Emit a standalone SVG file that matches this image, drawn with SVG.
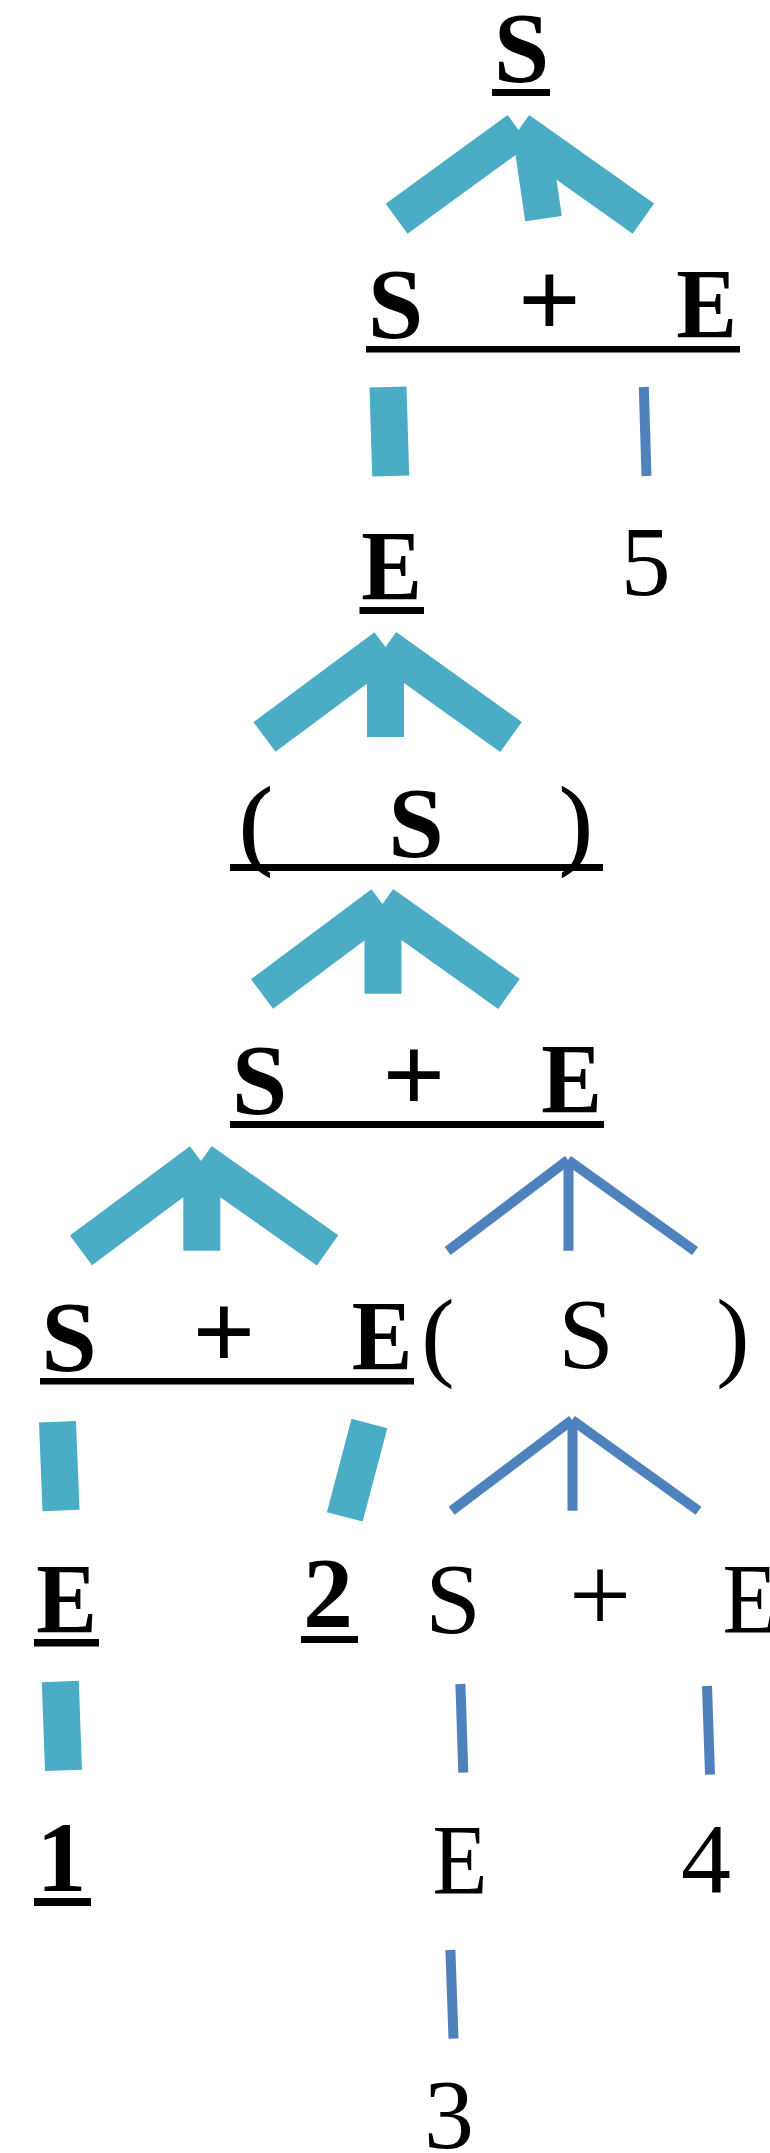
<svg xmlns="http://www.w3.org/2000/svg" width="770" height="2153" viewBox="0 0 770 2153">
  <style>
    text { font-family: "Liberation Serif", "Times New Roman", serif; font-size: 100px; fill: #000; text-anchor: middle; }
    .b { font-weight: bold; }
    .plus { font-size: 111px; }
    .par { stroke: #000; stroke-width: 1.2; }
    .ul { fill: #000; }
    .thick { stroke: #4BACC6; stroke-width: 37; stroke-linecap: butt; fill: none; }
    .thin { stroke: #4F81BD; stroke-width: 10; stroke-linecap: butt; fill: none; }
  </style>
  <rect width="770" height="2153" fill="#fff"/>

  <!-- derivation edges -->
  <g id="connectors">
    <!-- S -> S + E -->
    <line class="thick" x1="518.5" y1="130" x2="396.6" y2="218.7"/>
    <line class="thick" x1="518.5" y1="130" x2="643.4" y2="218.7"/>
    <line class="thick" x1="532" y1="140" x2="543.5" y2="218.7"/>
    <!-- S + E -> E, 5 -->
    <line class="thick" x1="388" y1="387" x2="390.7" y2="476"/>
    <line class="thin" x1="643.8" y1="387" x2="646.5" y2="476"/>
    <!-- E -> ( S ) -->
    <line class="thick" x1="385.5" y1="647" x2="264.5" y2="737"/>
    <line class="thick" x1="385.5" y1="647" x2="511" y2="737"/>
    <line class="thick" x1="385.5" y1="656" x2="385.5" y2="737"/>
    <!-- ( S ) -> S + E -->
    <line class="thick" x1="382.5" y1="904" x2="262" y2="994"/>
    <line class="thick" x1="382.5" y1="904" x2="509" y2="994"/>
    <line class="thick" x1="383" y1="913" x2="383" y2="993.7"/>
    <!-- S + E -> S + E ( S ) -->
    <line class="thick" x1="201" y1="1161" x2="81" y2="1250.4"/>
    <line class="thick" x1="201" y1="1161" x2="327.6" y2="1250.4"/>
    <line class="thick" x1="201.8" y1="1170" x2="201.8" y2="1250.7"/>
    <line class="thin" x1="568" y1="1160" x2="447.7" y2="1251"/>
    <line class="thin" x1="568" y1="1160" x2="695" y2="1251"/>
    <line class="thin" x1="568.5" y1="1163" x2="568.5" y2="1250.7"/>
    <!-- S + E -> E, 2 ; S -> S + E -->
    <line class="thick" x1="57.5" y1="1421.7" x2="61" y2="1510.5"/>
    <line class="thick" x1="369.4" y1="1423.5" x2="344.8" y2="1516.9"/>
    <line class="thin" x1="572" y1="1420" x2="451.6" y2="1510.7"/>
    <line class="thin" x1="572" y1="1420" x2="698.5" y2="1510.7"/>
    <line class="thin" x1="572.5" y1="1423" x2="572.5" y2="1510.7"/>
    <!-- E -> 1 ; S -> E ; E -> 4 -->
    <line class="thick" x1="60.3" y1="1681.5" x2="63.5" y2="1770.4"/>
    <line class="thin" x1="460.4" y1="1684" x2="463.3" y2="1772.7"/>
    <line class="thin" x1="707" y1="1686" x2="710" y2="1774.7"/>
    <!-- E -> 3 -->
    <line class="thin" x1="450.4" y1="1950" x2="453.5" y2="2038.7"/>
  </g>

  <g id="n-S-root">
    <text class="b" x="521.5" y="81">S</text>
    <rect class="ul" x="492" y="89" width="58" height="7"/>
  </g>
  <g id="n-SplusE-1">
    <text class="b" x="395.5" y="337">S</text>
    <text class="b plus" x="549.5" y="337">+</text>
    <text class="b" transform="translate(706.5 337) scale(0.91 1)" x="0" y="0">E</text>
    <rect class="ul" x="366" y="346" width="374" height="6.5"/>
  </g>
  <g id="n-E-1">
    <text class="b" transform="translate(391.5 599) scale(0.91 1)" x="0" y="0">E</text>
    <rect class="ul" x="359.5" y="607" width="64.5" height="7"/>
  </g>
  <g id="n-5">
    <text x="645.7" y="595">5</text>
  </g>
  <g id="n-paren-S-1">
    <text class="par" x="256" y="856">(</text>
    <text class="b" x="416" y="856">S</text>
    <text class="par" x="576" y="856">)</text>
    <rect class="ul" x="230" y="864" width="373" height="7"/>
  </g>
  <g id="n-SplusE-2">
    <text class="b" x="259.5" y="1113">S</text>
    <text class="b plus" x="414" y="1112">+</text>
    <text class="b" transform="translate(571.7 1112) scale(0.91 1)" x="0" y="0">E</text>
    <rect class="ul" x="230" y="1121" width="374" height="7"/>
  </g>
  <g id="n-SplusE-3">
    <text class="b" x="69" y="1370">S</text>
    <text class="b plus" x="224" y="1369">+</text>
    <text class="b" transform="translate(382 1369) scale(0.91 1)" x="0" y="0">E</text>
    <rect class="ul" x="40" y="1378" width="374" height="6.5"/>
  </g>
  <g id="n-paren-S-2">
    <text x="438" y="1368">(</text>
    <text x="586" y="1367">S</text>
    <text x="733" y="1368">)</text>
  </g>
  <g id="n-E-2">
    <text class="b" transform="translate(66.5 1632) scale(0.91 1)" x="0" y="0">E</text>
    <rect class="ul" x="34" y="1639" width="65" height="7.5"/>
  </g>
  <g id="n-2">
    <text class="b" x="328" y="1626">2</text>
    <rect class="ul" x="301" y="1636" width="57" height="7"/>
  </g>
  <g id="n-SplusE-4">
    <text x="453" y="1632">S</text>
    <text class="plus" x="600" y="1632">+</text>
    <text transform="translate(750 1632) scale(0.9 1)" x="0" y="0">E</text>
  </g>
  <g id="n-1">
    <text class="b" x="61.5" y="1891">1</text>
    <rect class="ul" x="34" y="1898" width="57" height="8"/>
  </g>
  <g id="n-E-3">
    <text transform="translate(460 1893) scale(0.9 1)" x="0" y="0">E</text>
  </g>
  <g id="n-4">
    <text x="706" y="1892">4</text>
  </g>
  <g id="n-3">
    <text x="449" y="2148">3</text>
  </g>
</svg>
